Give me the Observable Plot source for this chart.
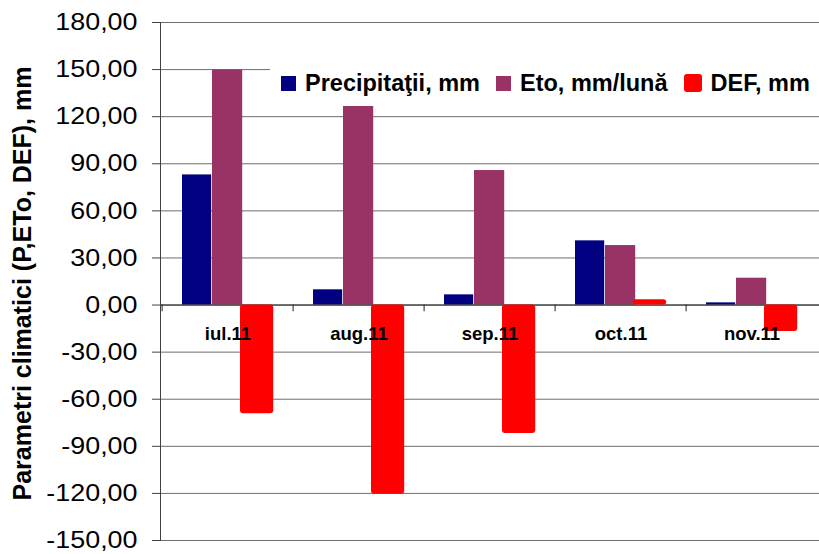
<!DOCTYPE html>
<html>
<head>
<meta charset="utf-8">
<script src="https://cdn.jsdelivr.net/npm/d3@7"></script>
<script src="https://cdn.jsdelivr.net/npm/@observablehq/plot@0.6"></script>
<style>
  html, body { margin: 0; padding: 0; background: #fff; }
  #wrap { position: relative; width: 819px; height: 554px; font-family: "Liberation Sans", Arial, sans-serif; }
  #legend { position: absolute; left: 270px; top: 60px; width: 549px; height: 46px; background: #fff;
            display: flex; align-items: center; padding-left: 11px; box-sizing: border-box;
            font-weight: bold; font-size: 23.5px; color: #000; white-space: nowrap; }
  .item { display: flex; align-items: center; margin-right: 16px; }
  .sw { width: 15px; height: 15px; margin-right: 9px; }
</style>
</head>
<body>
<div id="wrap"></div>
<script>
const months = ["iul.11", "aug.11", "sep.11", "oct.11", "nov.11"];
const precipitatii = [82.9, 9.7, 6.5, 40.9, 1.4];
const eto = [149.8, 127.1, 85.7, 37.9, 17.1];
const def = [-69.3, -120.5, -81.9, 3.3, -16.9];
const yTicks = [-150, -120, -90, -60, -30, 0, 30, 60, 90, 120, 150, 180];
const seriesNames = ["Precipitaţii, mm", "Eto, mm/lună", "DEF, mm"];
const seriesColors = ["#000080", "#993366", "#FF0000"];
const yTitle = "Parametri climatici (P,ETo, DEF), mm";

const W = 819, H = 554, ML = 160, MR = 0, MT = 22, MB = 14;
const bw = (W - ML - MR) / months.length;
const rows = months.map((m, i) => ({month: m, P: precipitatii[i], E: eto[i], D: def[i]}));
const fmt = d => d.toFixed(2).replace(".", ",");

const chart = Plot.plot({
  width: W, height: H,
  marginLeft: ML, marginRight: MR, marginTop: MT, marginBottom: MB,
  style: {fontFamily: "'Liberation Sans', Arial, sans-serif", background: "#fff", overflow: "visible"},
  x: {type: "band", domain: months, padding: 0, axis: null},
  y: {domain: [-150, 180], axis: null},
  marks: [
    Plot.gridY(yTicks, {stroke: "#6e6e6e", strokeOpacity: 1}),
    Plot.axisY(yTicks, {tickSize: 8, tickPadding: 15, tickFormat: fmt, fontSize: 24, stroke: "#404040", color: "#000"}),
    Plot.text([yTitle], {frameAnchor: "left", rotate: -90, dx: -138, dy: 2, textAnchor: "middle", lineAnchor: "middle", text: d => d, fontWeight: "bold", fontSize: 25, fill: "#000"}),
    Plot.barY(rows, {x: "month", y: "P", fill: seriesColors[0], insetLeft: 20, insetRight: bw - 50}),
    Plot.barY(rows, {x: "month", y: "E", fill: seriesColors[1], insetLeft: 50, insetRight: bw - 81}),
    Plot.ruleY([0], {stroke: "#222"}),
    Plot.barY(rows, {x: "month", y: "D", fill: seriesColors[2], insetLeft: 78, insetRight: bw - 112, rx: 3}),
    Plot.ruleX(months, {x: d => d, y1: 0, y2: -4.3, dx: -bw / 2, stroke: "#222"}),
    Plot.text(months, {x: d => d, y: 0, dy: 35, lineAnchor: "bottom", text: d => d, fontWeight: "bold", fontSize: 18.5, fill: "#000"}),
    Plot.frame({anchor: "left", stroke: "#404040"})
  ]
});

// widen the y tick labels horizontally (right-aligned, so the anchor stays put)
chart.querySelectorAll("g[aria-label='y-axis tick label'] text").forEach(t => {
  const tr = t.getAttribute("transform") || "";
  t.setAttribute("transform", tr + " scale(1.12,1)");
});

const wrap = document.getElementById("wrap");
wrap.appendChild(chart);
const legend = document.createElement("div");
legend.id = "legend";
seriesNames.forEach((name, i) => {
  const it = document.createElement("div");
  it.className = "item";
  const sw = document.createElement("div");
  sw.className = "sw";
  sw.style.background = seriesColors[i];
  if (i === 2) { sw.style.borderRadius = "3px"; sw.style.width = "18px"; sw.style.height = "18px"; }
  const t = document.createElement("span");
  t.textContent = name;
  it.appendChild(sw); it.appendChild(t);
  legend.appendChild(it);
});
wrap.appendChild(legend);
</script>
</body>
</html>
